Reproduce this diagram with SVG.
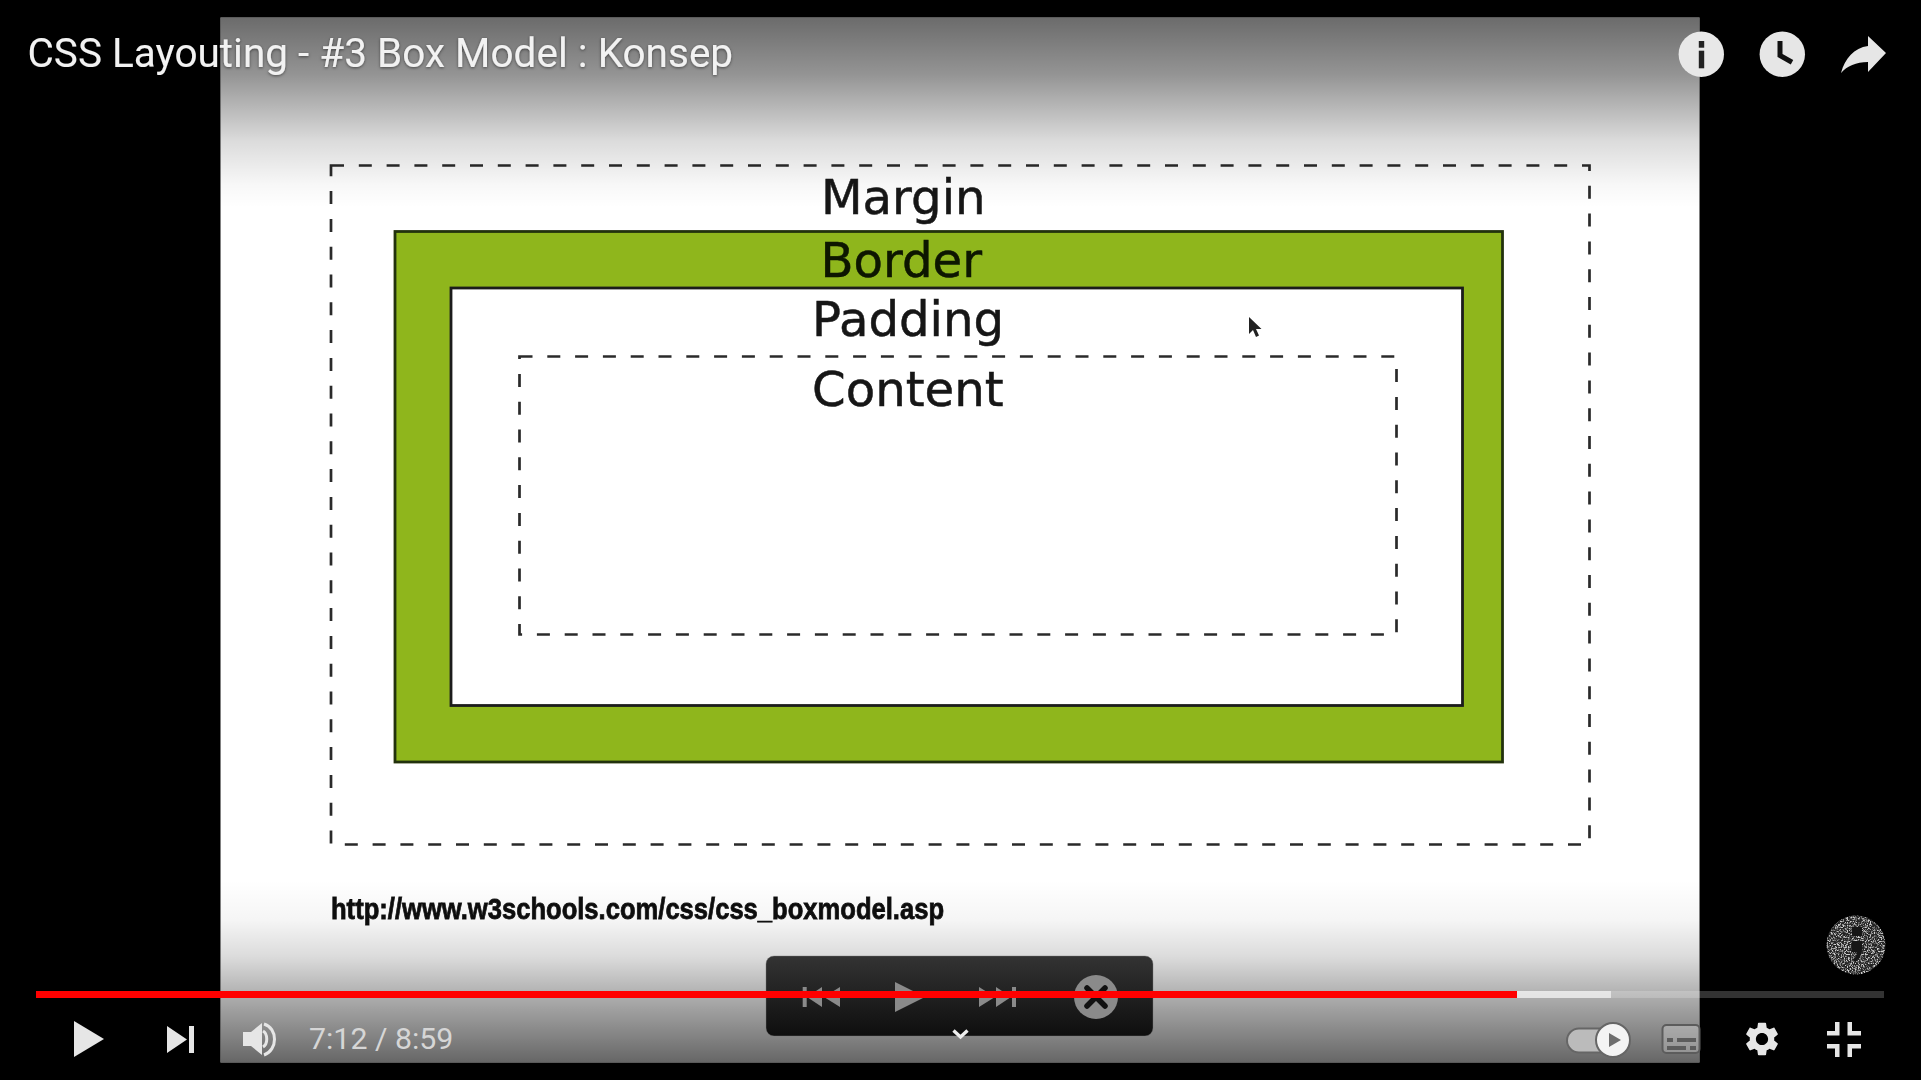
<svg xmlns="http://www.w3.org/2000/svg" width="1921" height="1080" viewBox="0 0 1921 1080">
<style>
.lbl{font-family:"DejaVu Sans",sans-serif;font-size:48.200px;fill:#161616;stroke:#161616;stroke-width:.5}
.dash{fill:none;stroke:#2a2a2a;stroke-width:2.700;stroke-dasharray:13 14.800}
.ic{fill:#e6e6e6}
</style>
<defs>
<linearGradient id="topG" x1="0" y1="0" x2="0" y2="1">
<stop offset="0" stop-color="#000" stop-opacity=".58"/>
<stop offset=".3" stop-color="#000" stop-opacity=".42"/>
<stop offset=".65" stop-color="#000" stop-opacity=".14"/>
<stop offset=".88" stop-color="#000" stop-opacity=".03"/>
<stop offset="1" stop-color="#000" stop-opacity="0"/>
</linearGradient>
<linearGradient id="botG" x1="0" y1="0" x2="0" y2="1">
<stop offset="0" stop-color="#000" stop-opacity="0"/>
<stop offset=".22" stop-color="#000" stop-opacity=".04"/>
<stop offset=".42" stop-color="#000" stop-opacity=".14"/>
<stop offset=".65" stop-color="#000" stop-opacity=".33"/>
<stop offset=".9" stop-color="#000" stop-opacity=".52"/>
<stop offset="1" stop-color="#000" stop-opacity=".6"/>
</linearGradient>
<linearGradient id="panelG" x1="0" y1="0" x2="0" y2="1">
<stop offset="0" stop-color="#333"/>
<stop offset="1" stop-color="#0e0e0e"/>
</linearGradient>
<filter id="noise" x="0" y="0" width="100%" height="100%">
<feTurbulence type="fractalNoise" baseFrequency=".7" numOctaves="2" seed="4"/>
<feColorMatrix type="matrix" values="0 0 0 0 .62  0 0 0 0 .62  0 0 0 0 .62  3 3 0 0 -2.800"/>
<feComposite in2="SourceAlpha" operator="in"/>
</filter>
<filter id="ts" x="-5%" y="-20%" width="110%" height="140%">
<feDropShadow dx="0" dy="1" stdDeviation="1.500" flood-color="#000" flood-opacity=".5"/>
</filter>
<filter id="soft" x="-2%" y="-2%" width="104%" height="104%">
<feGaussianBlur stdDeviation=".6"/>
</filter>
</defs>
<rect id="background" width="1921" height="1080" fill="#000"/>
<g id="slide">
<rect x="220.500" y="17.500" width="1479" height="1045" fill="#fff"/>
<g filter="url(#soft)">
<g id="margin-box"><rect class="dash" x="331" y="165.500" width="1258.500" height="679"/><text class="lbl" x="821" y="213.500">Margin</text></g>
<g id="border-box"><rect x="395" y="231.500" width="1107.500" height="530.500" fill="#8fb61f" stroke="#24320c" stroke-width="2.800"/><text class="lbl" x="820.500" y="276.500" style="fill:#0c1402;stroke:#0c1402">Border</text></g>
<g id="padding-box"><rect x="451" y="288" width="1011.500" height="417.500" fill="#fff" stroke="#1c1c1c" stroke-width="2.800"/><text class="lbl" x="812" y="336">Padding</text></g>
<g id="content-box"><rect class="dash" x="519.500" y="356.500" width="877" height="278"/><text class="lbl" x="812" y="405.500">Content</text></g>
<path id="cursor" d="M1249 317v17l4-4 3 7 3-1.500-3-6.500h5.500z" fill="#222"/>
<text id="url" x="331" y="919" font-family="'Liberation Sans',Arial,sans-serif" font-weight="700" font-size="30" fill="#111" stroke="#111" stroke-width=".8" textLength="613" lengthAdjust="spacingAndGlyphs">http://www.w3schools.com/css/css_boxmodel.asp</text>
</g>
</g>
<rect id="top-shade" x="220.500" y="17.500" width="1479" height="190" fill="url(#topG)"/>
<rect id="bottom-shade" x="220.500" y="880" width="1479" height="182.500" fill="url(#botG)"/>
<g id="title"><text x="27.500" y="67" font-family="Roboto,sans-serif" font-size="40.500" fill="#f2f2f2" filter="url(#ts)">CSS Layouting - #3 Box Model : Konsep</text></g>
<g id="top-icons">
<g id="info"><circle cx="1701.300" cy="54.300" r="22.700" fill="#e8e8e8"/><rect x="1698.800" y="41" width="5.400" height="6.700" fill="#222"/><rect x="1698.800" y="50.700" width="5.400" height="17.600" fill="#222"/></g>
<g id="clock"><circle cx="1782.300" cy="54.300" r="22.700" fill="#e6e6e6"/><path d="M1780 41v14.500l12 6.800" fill="none" stroke="#111" stroke-width="5"/></g>
<path id="share" class="ic" d="M1886 53l-18-17v10c-14 2-23 12-27 27 6-7 15-11 27-11v10z"/>
</g>
<g id="watermark">
<circle cx="1856" cy="945" r="29.500" fill="#242424"/>
<circle cx="1856" cy="945" r="29.500" fill="#fff" filter="url(#noise)"/>
<path d="M1852 927h10v9h-10zM1852 941h10v9c0 5-3 9-7 12l-2-2c2-2 4-5 4-8h-5z" fill="#161616"/>
</g>
<g id="player-panel">
<rect x="766" y="956" width="387" height="80" rx="8" fill="url(#panelG)" stroke="#777" stroke-opacity=".4"/>
<g fill="#8a8a8a">
<path d="M802.700 987h4v20h-4zM807 997l15-10v20zM824 997l16-10v20z"/>
<path d="M895 982l30 15-30 15z"/>
<path d="M979 987l16 10-16 10zM996 987l15 10-15 10zM1012 987h4v20h-4z"/>
<circle cx="1096" cy="997" r="22"/>
</g>
<path d="M1087 988l18 18M1105 988l-18 18" stroke="#111" stroke-width="5.500" stroke-linecap="round"/>
</g>
<g id="progress">
<rect x="36" y="991" width="1848" height="7" fill="#fff" fill-opacity=".2"/>
<rect x="1517" y="991" width="94" height="7" fill="#fff" fill-opacity=".6"/>
<rect x="36" y="991" width="1481" height="7" fill="#f00"/>
</g>
<path id="chevron" d="M953.500 1030.500l7 6.500 7-6.500" fill="none" stroke="#eee" stroke-width="3.400"/>
<g id="controls-left">
<path id="play" class="ic" d="M74 1021l30 18-30 18z"/>
<path id="next" class="ic" d="M167 1026l20 13.500-20 13.500zM189 1026h5v27h-5z"/>
<g id="volume"><path class="ic" d="M243 1032h8l11-9v32l-11-9h-8z"/><path d="M263 1031c5 3 5 13 0 16M264 1024c14 4 14 26 0 31" fill="none" stroke="#e6e6e6" stroke-width="3"/></g>
<text id="time" x="309" y="1049" font-family="Roboto,sans-serif" font-size="30.300" fill="#d6d6d6">7:12 / 8:59</text>
</g>
<g id="controls-right">
<g id="toggle"><rect x="1567" y="1028.500" width="50" height="24" rx="12" fill="#bbb" stroke="#666" stroke-width="2"/><circle cx="1613" cy="1040" r="17" fill="#f4f4f4" stroke="#666" stroke-width="2"/><path d="M1609 1033l12 7-12 7z" fill="#6e6e6e"/></g>
<g id="subtitles"><rect x="1662.500" y="1025" width="37" height="28" rx="4" fill="#fff" fill-opacity=".25" stroke="#5c5c5c" stroke-width="2"/><path d="M1667 1038h6v4h-6zM1677 1038h19v4h-19zM1667 1046h19v4h-19zM1690 1046h6v4h-6z" fill="#5c5c5c"/></g>
<path id="settings" class="ic" transform="translate(1762 1039) scale(1.7) translate(-12 -12)" d="M19.140 12.940c.04-.3.06-.61.06-.94 0-.32-.02-.64-.07-.94l2.030-1.580c.18-.14.23-.41.12-.61l-1.920-3.320c-.12-.22-.37-.29-.59-.22l-2.390.96c-.5-.38-1.030-.7-1.620-.94l-.36-2.540c-.04-.24-.24-.41-.48-.41h-3.840c-.24 0-.43.17-.47.41l-.36 2.540c-.59.24-1.130.57-1.620.94l-2.390-.96c-.22-.08-.47 0-.59.22L2.740 8.870c-.12.21-.08.47.12.61l2.030 1.580c-.05.3-.09.63-.09.94s.02.64.07.94l-2.030 1.580c-.18.14-.23.41-.12.61l1.920 3.320c.12.22.37.29.59.22l2.390-.96c.5.38 1.030.7 1.620.94l.36 2.540c.05.24.24.41.48.41h3.840c.24 0 .44-.17.47-.41l.36-2.540c.59-.24 1.130-.56 1.620-.94l2.390.96c.22.08.47 0 .59-.22l1.920-3.320c.12-.22.07-.47-.12-.61l-2.010-1.580zM12 15.600c-1.980 0-3.600-1.620-3.600-3.600s1.620-3.600 3.600-3.600 3.600 1.620 3.600 3.600-1.620 3.600-3.600 3.600z"/>
<path id="fullscreen-exit" class="ic" d="M1827 1031h8v-9h4.500v13.500h-12.500zM1847.500 1022h4.500v9h9v4.500h-13.500zM1827 1044h12.500v13h-4.500v-8.500h-8zM1847.500 1044h13.500v4.500h-9v8.500h-4.500z"/>
</g>
</svg>
